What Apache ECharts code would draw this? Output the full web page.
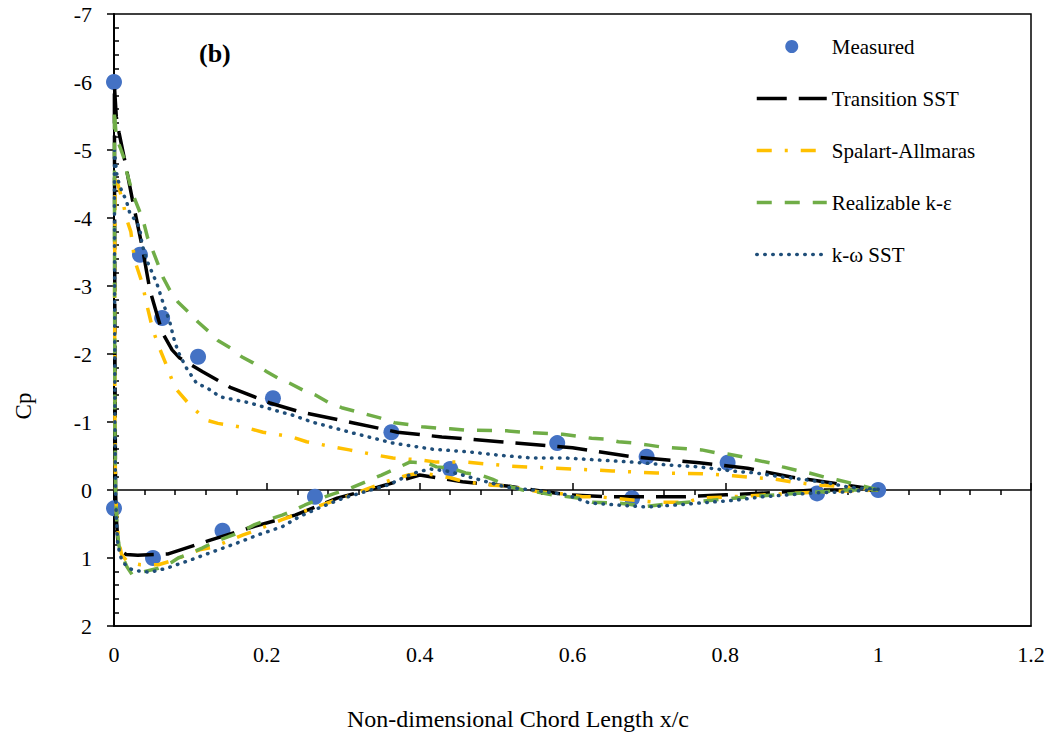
<!DOCTYPE html>
<html>
<head>
<meta charset="UTF-8">
<title>Cp distribution</title>
<script src="https://cdn.jsdelivr.net/npm/echarts@6/dist/echarts.min.js"></script>
<style>
  html, body { margin: 0; padding: 0; background: #fff; }
  #main { width: 1056px; height: 733px; }
</style>
</head>
<body>
<div id="main"></div>
<script>
// x/c, Cp  (upper surface TE -> LE, then lower surface LE -> TE)
var measured = [
    [0, -6.0], [0.034, -3.46], [0.063, -2.53], [0.11, -1.96], [0.208, -1.35],
    [0.363, -0.85], [0.58, -0.69], [0.697, -0.49], [0.803, -0.40], [1.0, 0],
    [0, 0.27], [0.051, 1.0], [0.142, 0.6], [0.263, 0.1], [0.44, -0.31],
    [0.678, 0.12], [0.92, 0.05]
];

var transitionSST = [
    [1.0, 0], [0.984, -0.03], [0.942, -0.10], [0.886, -0.19], [0.829, -0.32],
    [0.766, -0.40], [0.677, -0.49], [0.60, -0.62], [0.505, -0.71], [0.429, -0.78],
    [0.371, -0.85], [0.312, -0.99], [0.243, -1.15], [0.204, -1.28], [0.152, -1.51],
    [0.116, -1.74], [0.086, -1.94], [0.076, -2.06], [0.063, -2.32], [0.047, -2.94],
    [0.037, -3.57], [0.025, -4.22], [0.014, -4.85], [0.0065, -5.26], [0.003, -5.49],
    [0.0005, -5.95],
    [0.0008, -4.0], [0.0012, -2.0], [0.002, 0], [0.003, 0.4], [0.005, 0.75],
    [0.009, 0.9], [0.016, 0.95], [0.031, 0.96], [0.071, 0.94], [0.125, 0.74],
    [0.182, 0.54], [0.237, 0.37], [0.292, 0.12], [0.345, -0.04], [0.40, -0.22],
    [0.456, -0.12], [0.514, -0.06], [0.592, 0.07], [0.648, 0.10], [0.744, 0.10],
    [0.801, 0.07], [0.86, 0.04], [0.916, 0.0], [1.0, 0]
];

var spalartAllmaras = [
    [1.0, 0], [0.942, -0.06], [0.923, -0.07], [0.886, -0.12], [0.865, -0.16],
    [0.83, -0.19], [0.81, -0.21], [0.77, -0.24], [0.71, -0.25], [0.652, -0.28],
    [0.635, -0.29], [0.579, -0.32], [0.54, -0.34], [0.52, -0.35], [0.461, -0.41],
    [0.422, -0.41], [0.403, -0.44], [0.365, -0.47], [0.345, -0.51], [0.308, -0.59],
    [0.289, -0.63], [0.252, -0.71], [0.233, -0.78], [0.195, -0.85], [0.175, -0.91],
    [0.136, -0.98], [0.12, -1.03], [0.097, -1.28], [0.08, -1.50], [0.067, -1.88],
    [0.059, -2.10], [0.051, -2.35], [0.043, -2.72], [0.037, -3.04], [0.027, -3.38],
    [0.022, -3.80], [0.016, -4.0], [0.012, -4.22], [0.005, -4.5], [0.0015, -4.66],
    [0.0008, -3.0], [0.0012, -1.0], [0.002, 0], [0.004, 0.5], [0.007, 0.8],
    [0.01, 0.95], [0.018, 1.06], [0.035, 1.10], [0.058, 1.10], [0.076, 1.04],
    [0.112, 0.88], [0.13, 0.84], [0.169, 0.66], [0.184, 0.60], [0.219, 0.44],
    [0.236, 0.37], [0.254, 0.29], [0.272, 0.22], [0.311, 0.07], [0.328, 0.0],
    [0.363, -0.15], [0.385, -0.22], [0.403, -0.25], [0.44, -0.18], [0.459, -0.12],
    [0.495, -0.07], [0.515, -0.06], [0.557, 0.03], [0.576, 0.04], [0.613, 0.10],
    [0.633, 0.10], [0.71, 0.18], [0.75, 0.18], [0.766, 0.12], [0.805, 0.10],
    [0.827, 0.09], [0.854, 0.07], [0.92, 0.03], [1.0, 0]
];

var realizableKE = [
    [1.0, 0], [0.965, -0.10], [0.946, -0.15], [0.93, -0.19], [0.91, -0.25],
    [0.893, -0.29], [0.875, -0.34], [0.858, -0.40], [0.84, -0.44], [0.822, -0.49],
    [0.803, -0.53], [0.786, -0.55], [0.769, -0.59], [0.718, -0.63], [0.70, -0.66],
    [0.68, -0.69], [0.66, -0.71], [0.644, -0.75], [0.625, -0.76], [0.607, -0.79],
    [0.587, -0.82], [0.533, -0.85], [0.514, -0.87], [0.459, -0.88], [0.44, -0.90],
    [0.422, -0.91], [0.403, -0.93], [0.387, -0.96], [0.367, -0.99], [0.348, -1.06],
    [0.328, -1.12], [0.315, -1.16], [0.298, -1.21], [0.28, -1.29], [0.263, -1.40],
    [0.247, -1.47], [0.23, -1.57], [0.214, -1.65], [0.2, -1.74], [0.182, -1.87],
    [0.167, -1.96], [0.152, -2.09], [0.136, -2.2], [0.125, -2.32], [0.11, -2.47],
    [0.097, -2.62], [0.084, -2.76], [0.073, -2.94], [0.064, -3.13], [0.058, -3.31],
    [0.047, -3.63], [0.044, -3.71], [0.038, -3.97], [0.025, -4.34], [0.017, -4.66],
    [0.014, -4.85], [0.008, -5.04], [0.003, -5.19], [0.001, -5.49], [0.0005, -5.6],
    [0.0008, -3.0], [0.0012, -1.0], [0.002, 0], [0.004, 0.6], [0.007, 0.85],
    [0.01, 0.95], [0.017, 1.13], [0.024, 1.25], [0.032, 1.22], [0.058, 1.15],
    [0.076, 1.06], [0.084, 1.0], [0.1, 0.93], [0.116, 0.85], [0.132, 0.76],
    [0.149, 0.69], [0.165, 0.62], [0.184, 0.51], [0.201, 0.44], [0.22, 0.37],
    [0.237, 0.29], [0.25, 0.22], [0.276, 0.10], [0.289, 0.05], [0.306, -0.01],
    [0.35, -0.22], [0.37, -0.32], [0.387, -0.41], [0.41, -0.40], [0.422, -0.34],
    [0.442, -0.32], [0.46, -0.25], [0.48, -0.22], [0.495, -0.16], [0.515, -0.06],
    [0.535, 0], [0.554, 0.03], [0.573, 0.07], [0.609, 0.12], [0.626, 0.18],
    [0.659, 0.19], [0.697, 0.24], [0.72, 0.21], [0.783, 0.15], [0.802, 0.13],
    [0.84, 0.09], [0.88, 0.06], [0.92, 0.03], [0.96, 0.0], [1.0, 0]
];

var kOmegaSST = [
    [1.0, -0.01], [0.962, -0.04], [0.936, -0.10], [0.906, -0.15], [0.875, -0.19],
    [0.84, -0.25], [0.809, -0.28], [0.766, -0.34], [0.723, -0.37], [0.678, -0.41],
    [0.635, -0.44], [0.592, -0.47], [0.548, -0.47], [0.505, -0.51], [0.465, -0.56],
    [0.417, -0.60], [0.365, -0.69], [0.312, -0.84], [0.259, -1.0], [0.234, -1.10],
    [0.217, -1.15], [0.178, -1.28], [0.139, -1.37], [0.122, -1.5], [0.108, -1.57],
    [0.095, -1.79], [0.084, -2.03], [0.078, -2.24], [0.073, -2.47], [0.064, -2.76],
    [0.056, -3.04], [0.044, -3.35], [0.037, -3.6], [0.034, -3.82], [0.030, -3.94],
    [0.021, -4.06], [0.016, -4.26], [0.010, -4.40], [0.0065, -4.51], [0.004, -4.62],
    [0.0015, -4.87], [0.0005, -5.0],
    [0.0008, -3.0], [0.0012, -1.0], [0.002, 0], [0.003, 0.4], [0.005, 0.81],
    [0.01, 1.03], [0.017, 1.13], [0.025, 1.18], [0.047, 1.21], [0.069, 1.15],
    [0.1, 1.03], [0.129, 0.91], [0.161, 0.78], [0.191, 0.65], [0.22, 0.54],
    [0.243, 0.39], [0.269, 0.26], [0.3, 0.12], [0.33, 0.02], [0.36, -0.08],
    [0.39, -0.24], [0.413, -0.31], [0.435, -0.28], [0.456, -0.22], [0.514, -0.04],
    [0.548, 0.0], [0.592, 0.07], [0.622, 0.19], [0.658, 0.22], [0.697, 0.25],
    [0.736, 0.22], [0.779, 0.18], [0.814, 0.15], [0.848, 0.10], [0.884, 0.07],
    [0.919, 0.04], [0.953, 0.03], [0.988, 0], [1.0, -0.01]
];

var seriesNames = ['Measured', 'Transition SST', 'Spalart-Allmaras', 'Realizable k-ε', 'k-ω SST'];
var xTicks = { min: 0, max: 1.2, step: 0.2 };
var yTicks = { min: -7, max: 2, step: 1 };

var serif = "'Times New Roman', 'Liberation Serif', serif";

var styles = {
    'Transition SST':   { color: '#000000', dash: [30, 12], width: 3.5 },
    'Spalart-Allmaras': { color: '#FFC000', dash: [15, 13, 3, 13], width: 3.5 },
    'Realizable k-ε':   { color: '#70AD47', dash: [15, 13], width: 3.5 },
    'k-ω SST':          { color: '#1F4E79', dash: [0.5, 7.5], width: 3.5, cap: 'round' }
};

var chart = echarts.init(document.getElementById('main'), null, { renderer: 'svg' });

function lineSeries(name, data) {
    var s = styles[name];
    return {
        name: name,
        type: 'line',
        data: data,
        symbol: 'none',
        smooth: false,
        lineStyle: { color: s.color, width: s.width, type: s.dash, cap: s.cap || 'butt' },
        itemStyle: { color: s.color }
    };
}

var legendData = seriesNames.map(function (n) {
    if (!styles[n]) {
        return { name: n };
    }
    // line legend: hide the circle drawn in the middle of the line
    return {
        name: n,
        itemStyle: { opacity: 0 },
        lineStyle: { color: styles[n].color, width: styles[n].width, type: styles[n].dash, cap: styles[n].cap || 'butt' }
    };
});

var option = {
    animation: false,
    backgroundColor: '#fff',
    textStyle: { fontFamily: serif, color: '#000' },
    grid: {
        left: 114, right: 25, top: 14, bottom: 107,
        show: true, borderColor: '#000', borderWidth: 1.5
    },
    legend: {
        orient: 'vertical',
        left: 750,
        top: 31,
        itemWidth: 70,
        itemHeight: 13,
        itemGap: 31,
        textStyle: { fontFamily: serif, fontSize: 21, lineHeight: 21, color: '#000', padding: [0, 0, 0, 0] },
        data: legendData
    },
    xAxis: [{
        // bottom frame with labels
        type: 'value',
        min: xTicks.min, max: xTicks.max, interval: xTicks.step,
        position: 'bottom',
        axisLine: { onZero: false, lineStyle: { color: '#000', width: 1.5 } },
        axisTick: { show: false },
        axisLabel: {
            margin: 17, fontSize: 22, fontFamily: serif, color: '#000',
            formatter: function (v) { return String(Math.round(v * 10) / 10); }
        },
        splitLine: { show: false }
    }, {
        // axis line at Cp = 0, major ticks upward
        type: 'value',
        min: xTicks.min, max: xTicks.max, interval: xTicks.step,
        position: 'bottom',
        axisLine: { onZero: true, onZeroAxisIndex: 0, lineStyle: { color: '#000', width: 1.5 } },
        axisTick: { show: true, inside: true, length: 7, lineStyle: { color: '#000', width: 1.5 } },
        axisLabel: { show: false },
        splitLine: { show: false }
    }, {
        // minor ticks downward at Cp = 0
        type: 'value',
        min: xTicks.min, max: xTicks.max, interval: xTicks.step,
        position: 'bottom',
        axisLine: { show: false, onZero: true, onZeroAxisIndex: 0 },
        axisTick: { show: false },
        minorTick: { show: true, splitNumber: 5, length: 5, lineStyle: { color: '#000', width: 1.5 } },
        axisLabel: { show: false },
        splitLine: { show: false }
    }],
    yAxis: [{
        type: 'value',
        inverse: true,
        min: yTicks.min, max: yTicks.max, interval: yTicks.step,
        position: 'left',
        axisLine: { onZero: false, lineStyle: { color: '#000', width: 2 } },
        axisTick: { show: true, length: 7, lineStyle: { color: '#000', width: 1.5 } },
        axisLabel: { margin: 22, fontSize: 22, fontFamily: serif, color: '#000' },
        splitLine: { show: false }
    }, {
        type: 'value',
        inverse: true,
        min: yTicks.min, max: yTicks.max, interval: yTicks.step,
        position: 'left',
        axisLine: { show: false, onZero: false },
        axisTick: { show: false, inside: true },
        minorTick: { show: true, splitNumber: 5, length: 5, lineStyle: { color: '#000', width: 1.5 } },
        axisLabel: { show: false },
        splitLine: { show: false }
    }],
    graphic: [{
        type: 'text', left: 199, top: 40,
        style: { text: '(b)', font: 'bold 26px ' + serif, fill: '#000' }
    }, {
        type: 'text', x: 23, y: 406, rotation: Math.PI / 2,
        style: { text: 'Cp', font: '23px ' + serif, fill: '#000', align: 'center', verticalAlign: 'middle' }
    }, {
        type: 'text', x: 518, y: 719,
        style: { text: 'Non-dimensional Chord Length x/c', font: '24px ' + serif, fill: '#000', align: 'center', verticalAlign: 'middle' }
    }],
    series: [{
        name: 'Measured',
        type: 'scatter',
        data: measured,
        symbol: 'circle',
        symbolSize: 16,
        itemStyle: { color: '#4472C4', opacity: 1 }
    },
        lineSeries('Transition SST', transitionSST),
        lineSeries('Spalart-Allmaras', spalartAllmaras),
        lineSeries('Realizable k-ε', realizableKE),
        lineSeries('k-ω SST', kOmegaSST)
    ]
};

chart.setOption(option);
</script>
</body>
</html>
